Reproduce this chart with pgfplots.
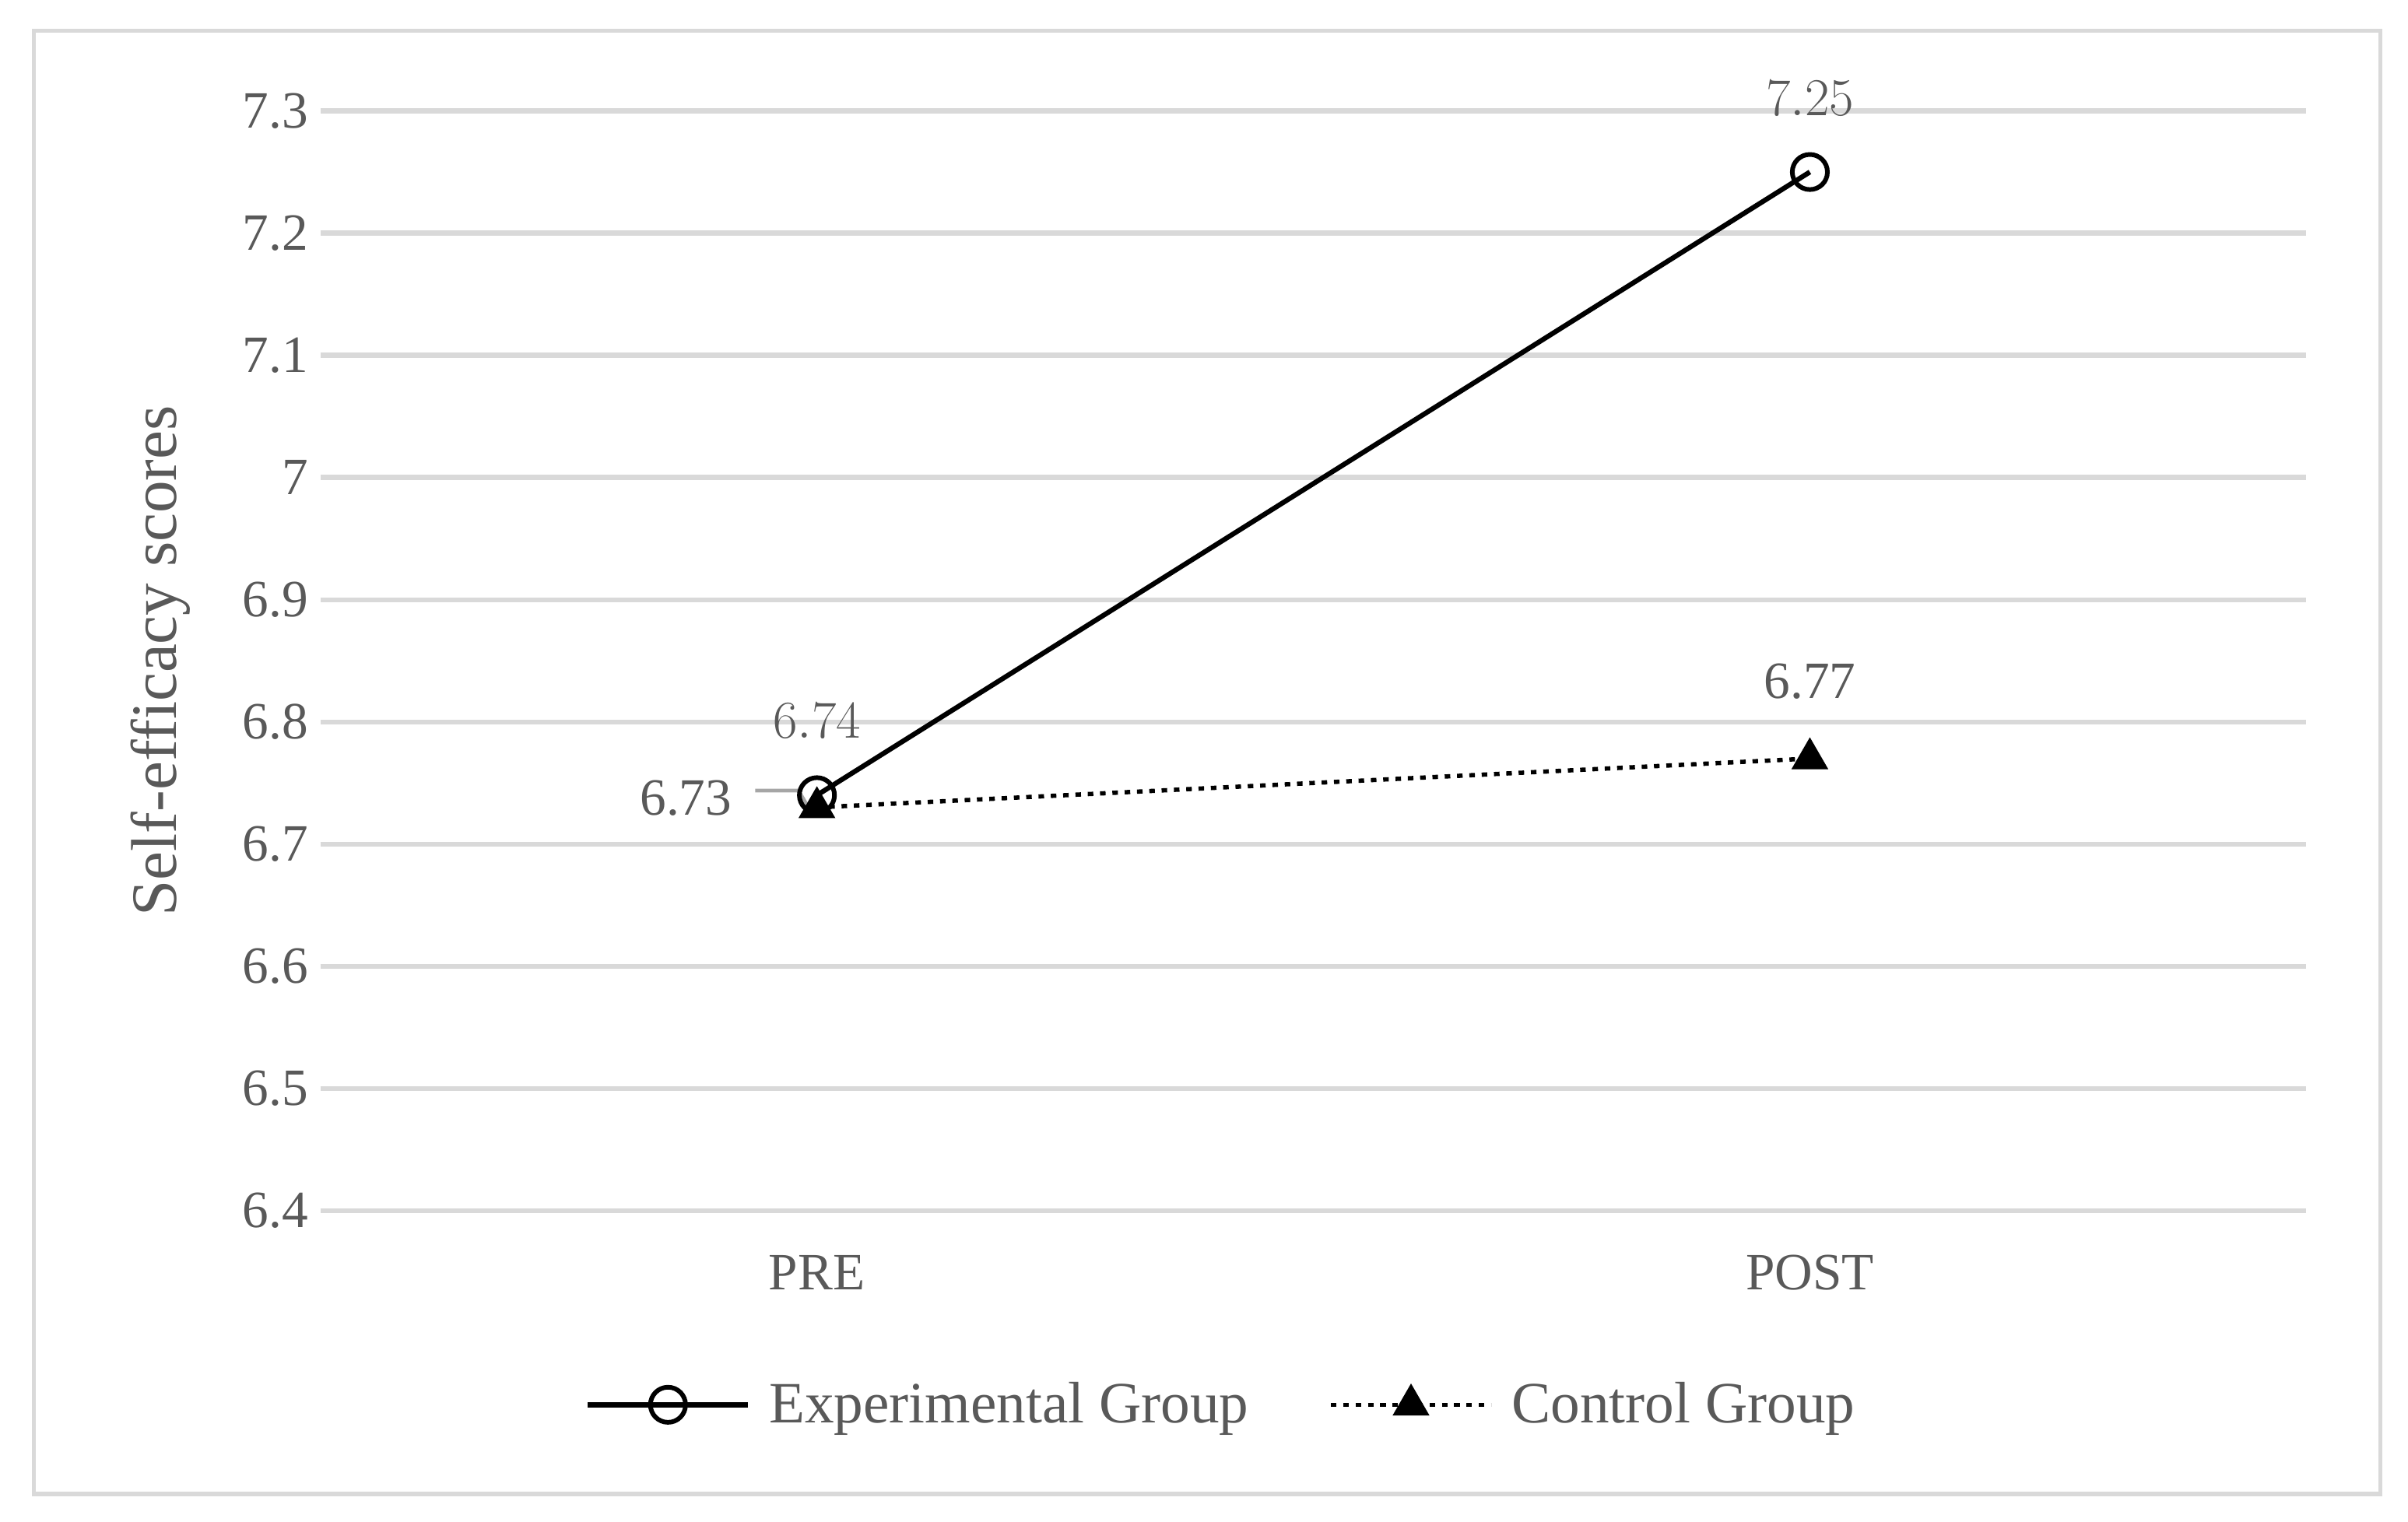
\documentclass[border=0pt]{standalone}
\usepackage{pgfplots}
\pgfplotsset{compat=1.18}
\usepackage{fontspec}
\setmainfont{Liberation Serif}
\definecolor{txtgray}{HTML}{595959}
\definecolor{gridgray}{HTML}{D9D9D9}
\definecolor{leadgray}{HTML}{A6A6A6}
\begin{document}
\begin{tikzpicture}
\useasboundingbox (0,0) rectangle (781.5pt,494pt);
\draw[gridgray, line width=1.4pt] (11pt,9pt) rectangle (772.5pt,484pt);
\begin{axis}[
  at={(104pt,101pt)}, anchor=south west,
  scale only axis, width=644.5pt, height=357pt,
  xmin=-0.5, xmax=1.5, ymin=6.4, ymax=7.3,
  xtick={0,1}, xticklabels={PRE,POST},
  ytick={6.4,6.5,6.6,6.7,6.8,6.9,7.0,7.1,7.2,7.3},
  yticklabels={6.4,6.5,6.6,6.7,6.8,6.9,7,7.1,7.2,7.3},
  axis line style={draw=none}, major tick style={draw=none},
  ymajorgrids, grid style={gridgray, line width=1.6pt},
  ticklabel style={font=\fontsize{17}{20}\selectfont, text=txtgray},
  xticklabel style={yshift=-11pt},
  yticklabel style={xshift=-0.5pt},
  ylabel={Self-efficacy scores},
  every axis y label/.style={at={(axis description cs:-0.0805,0.5)}, rotate=90, anchor=center, font=\fontsize{21}{24}\selectfont, text=txtgray},
  clip=false,
  reverse legend,
  legend columns=2,
  legend style={draw=none, fill=none, at={(axis description cs:0.4546,-0.1765)}, anchor=center,
    font=\fontsize{19}{22}\selectfont, text=txtgray,
    /tikz/every odd column/.append style={column sep=4pt},
    /tikz/every even column/.append style={column sep=24pt}},
  legend image code/.code={\draw[mark repeat=2,mark phase=2,#1] plot coordinates {(0pt,0pt)(26pt,0pt)(52pt,0pt)};},
]
\addplot[black, line width=1.4pt, dash pattern=on 1.8pt off 2.2pt, mark=triangle*, mark size=5.5pt,
  mark options={solid, fill=black},
  nodes near coords={\pgfplotspointmeta},
  point meta=explicit symbolic,
  nodes near coords style={anchor=center, yshift=25pt, font=\fontsize{17}{20}\selectfont, text=txtgray}]
  table[meta index=2] {
  x y m
  0 6.73 {}
  1 6.77 6.77
  };
\addlegendentry{Control Group}
\addplot[black, line width=1.6pt, mark=o, mark size=5.7pt, mark options={solid, line width=1.5pt, fill=white},
  nodes near coords={\pgfmathprintnumber[fixed,precision=2]{\pgfplotspointmeta}},
  point meta=y,
  nodes near coords style={anchor=center, yshift=24pt, font=\fontsize{17}{20}\selectfont, text=txtgray}]
  coordinates {(0,6.74) (1,7.25)};
\addlegendentry{Experimental Group}
\draw[leadgray, line width=1.2pt] ([xshift=-20pt,yshift=1.5pt]axis cs:0,6.74) -- ([xshift=-6pt,yshift=1.5pt]axis cs:0,6.74) -- ([xshift=-1pt,yshift=-3pt]axis cs:0,6.73);
\node[anchor=center, font=\fontsize{17}{20}\selectfont, text=txtgray] at ([xshift=-42.5pt,yshift=3pt]axis cs:0,6.73) {6.73};
\end{axis}
\end{tikzpicture}
\end{document}
